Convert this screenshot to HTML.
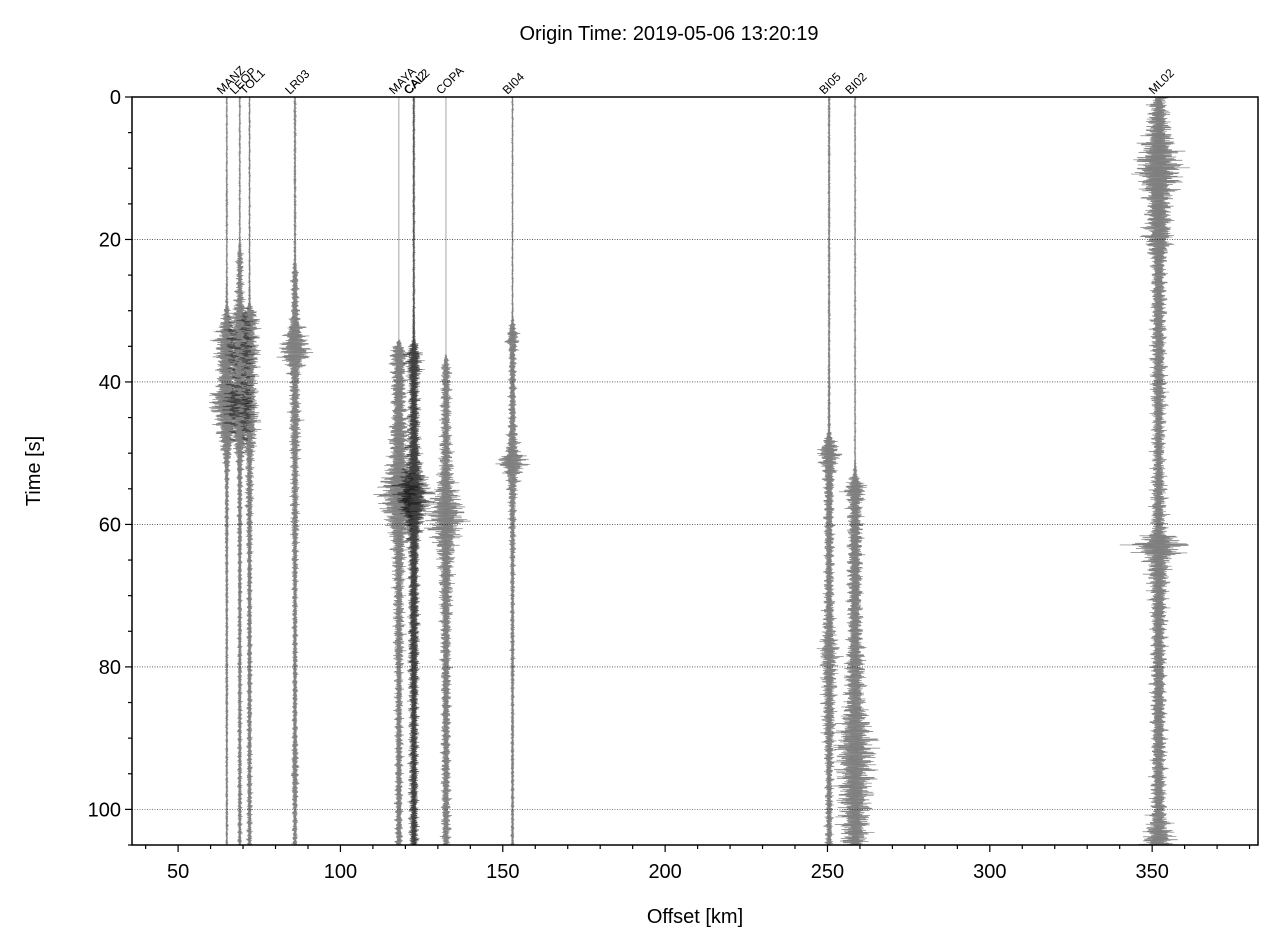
<!DOCTYPE html>
<html><head><meta charset="utf-8"><style>
html,body{margin:0;padding:0;background:#fff;}
svg{display:block;font-family:"Liberation Sans","DejaVu Sans",sans-serif;}
</style></head><body>
<svg id="chart" width="1281" height="952" viewBox="0 0 1281 952" xmlns="http://www.w3.org/2000/svg">
<text x="669" y="40" font-size="20" text-anchor="middle">Origin Time: 2019-05-06 13:20:19</text>
<g id="grid"></g>
<g id="traces"></g>
<g id="labels"></g>
<rect x="132" y="97" width="1126" height="748" fill="none" stroke="#000" stroke-width="1.5"/>
<g id="xaxis"></g>
<g id="yaxis"></g>
<text x="695" y="923" font-size="20" text-anchor="middle">Offset [km]</text>
<text transform="translate(40,471) rotate(-90)" font-size="20" text-anchor="middle">Time [s]</text>
</svg>
<script>
const stations = ["MANZ","LEOP","TOL1","LR03","MAYA","CAI2","CAL2","COPA","BI04","BI05","BI02","ML02"];
const offsets = [65,69,72,86,118,122.5,122.7,132.5,153,250.5,258.5,352];
const knotTimes = [0,5,10,15,20,23,25,29,31,34,36,38,40,43,45,47,50,51,53,55,57,59,61,63,65,70,75,78,80,85,88,91,95,100,105];
// envelope half-width (km) at each knot time, per station
const envMANZ = [0.2,0.2,0.2,0.3,0.2,0.2,0.2,0.5,2,5,5,4,4,8,5,4,2,1.5,1,0.8,0.8,0.8,0.8,0.6,0.6,0.5,0.5,0.5,0.5,0.5,0.4,0.4,0.4,0.4,0.4];
const envLEOP = [0.2,0.2,0.2,0.2,0.2,1.5,1.2,2,4,5,5,4,4,6,5,4,2,1.5,1.2,1,1,1,1,0.9,0.8,0.8,0.8,0.8,0.8,0.8,0.8,0.8,0.8,0.8,0.8];
const envTOL1 = [0.2,0.2,0.2,0.2,0.2,0.2,0.2,0.4,4,3,4,3,3,3,4,3,2,1.5,1.5,1.5,1.5,1.2,1.2,1.2,1,1,1,1,1,1,1,1,1,1,1];
const envLR03 = [0.4,0.4,0.4,0.4,0.4,0.5,1.5,1.5,2,5,7,3,2,2,2.5,2,2,1.5,1.5,1.5,1.5,1.5,1.5,1.2,1.2,1,1,1,1,1,1,1.2,1.5,1,1];
const envMAYA = [0,0,0,0,0,0,0,0,0,0,4,3,3,3,3,4,4,4,6,8,8,6,4,3,2.5,2,2,2,1.5,1.5,1.5,1.5,1.5,1.5,1.5];
const envCAI2 = [0.2,0.2,0.2,0.2,0.2,0.2,0.2,0.2,0.3,0.5,3,3,2,2,2.5,2.5,3,3,5,8,7,4,3,2.5,2,2,2,2,2,1.8,1.8,1.8,1.8,1.8,1.8];
const envCAL2 = [0.2,0.2,0.2,0.2,0.2,0.2,0.2,0.2,0.3,0.5,3,3,2,2,2,2,2.5,2.5,3,5,6,4,3,2,2,2,2,2,2,1.5,1.5,1.5,1.5,1.5,1.5];
const envCOPA = [0,0,0,0,0,0,0,0,0,0,0,2,2,2,2,2,2.5,2.5,3,4,6,8,6,4,3,2.5,2,2,2,1.8,1.8,1.8,1.8,1.8,1.8];
const envBI04 = [0.2,0.2,0.2,0.2,0.2,0.2,0.2,0.2,0.3,3,1.5,1.5,1.5,1.5,1.5,2,3,7,3,2,1.5,1.5,1.2,1.2,1,0.8,0.8,0.8,0.8,0.6,0.6,0.6,0.6,0.6,0.6];
const envBI05 = [0.4,0.4,0.4,0.4,0.4,0.4,0.4,0.4,0.4,0.4,0.4,0.4,0.5,0.5,0.5,0.6,5,4,2.5,2,2,2,2,2,1.8,2,2.5,4,3,2.5,2.5,2,1.5,1.5,1.5];
const envBI02 = [0.2,0.2,0.2,0.2,0.2,0.2,0.2,0.2,0.2,0.2,0.2,0.2,0.2,0.2,0.2,0.2,0.2,0.2,1,5,3,3,3,3,3,3,3,3.5,4,4,6,8,7,6,5];
const envML02 = [3,5,10,5,6,3,3,3,3,3,3,3,3,3,2.5,2.5,2.5,2.5,2.5,3,3,3,3,12,5,3.5,3,3,3,3,3,3,3,3,7];
const envelopes = [envMANZ,envLEOP,envTOL1,envLR03,envMAYA,envCAI2,envCAL2,envCOPA,envBI04,envBI05,envBI02,envML02];
const xTicks = [50,100,150,200,250,300,350];
const yTicks = [0,20,40,60,80,100];

const X0=132,X1=1258,Y0=97,Y1=845, XMIN=35.8,XMAX=382.6,TMIN=0,TMAX=105;
const xs = v => X0+(v-XMIN)/(XMAX-XMIN)*(X1-X0);
const ys = t => Y0+(t-TMIN)/(TMAX-TMIN)*(Y1-Y0);
const NS="http://www.w3.org/2000/svg";
function mk(tag,attrs,parent){const e=document.createElementNS(NS,tag);for(const k in attrs)e.setAttribute(k,attrs[k]);parent.appendChild(e);return e;}
function env(arr,t){for(let i=0;i<knotTimes.length-1;i++){if(t<=knotTimes[i+1]){const f=(t-knotTimes[i])/(knotTimes[i+1]-knotTimes[i]);return arr[i]+(arr[i+1]-arr[i])*f;}}return arr[arr.length-1];}

const grid=document.getElementById('grid');
yTicks.forEach(t=>{ if(t===0) return;
  const l=mk('line',{x1:X0,x2:X1,y1:ys(t),y2:ys(t),stroke:'#000','stroke-width':0.6,'stroke-dasharray':'1,1.5'},grid);
  
  
});

const traces=document.getElementById('traces'), labels=document.getElementById('labels');
stations.forEach((s,i)=>{
  const x0=offsets[i], e=envelopes[i];
  let d='';
  for(let k=0;k<=5250;k++){
    const t=k*0.02;
    const spike=0.45+0.55*Math.abs(Math.sin(t*2.9+i*0.7)*Math.sin(t*5.3+i));
    const osc=(Math.sin(t*53.7+i*1.3)*0.55+Math.sin(t*131.9+i*2.1)*0.3+Math.sin(t*17.3+i)*0.15*Math.sin(t*7.1))*spike*1.3;
    const a=env(e,t)*osc;
    d+=(k?'L':'M')+xs(x0+a).toFixed(2)+' '+ys(t).toFixed(2);
  }
  const p=mk('path',{d:d,fill:'none',stroke:'#000','stroke-opacity':0.5,'stroke-width':0.7},traces);
  
  
  const tx=xs(x0);
  const lb=mk('text',{transform:`translate(${tx-5},95) rotate(-45)`,'font-size':12},labels);
  lb.textContent=s;
  
  
});

const xa=document.getElementById('xaxis');
for(let v=40;v<=380;v+=10){
  const major=v%50===0;
  const l=mk('line',{x1:xs(v),x2:xs(v),y1:Y1,y2:Y1+(major?7:4),stroke:'#000','stroke-width':1.2},xa);
  
  
}
xTicks.forEach(v=>{
  const t=mk('text',{x:xs(v),y:Y1+33,'font-size':20,'text-anchor':'middle'},xa);
  t.textContent=v;
  
  
});
const ya=document.getElementById('yaxis');
for(let v=0;v<=105;v+=5){
  const major=v%20===0;
  const l=mk('line',{x1:X0,x2:X0-(major?7:4),y1:ys(v),y2:ys(v),stroke:'#000','stroke-width':1.2},ya);
  
  
}
yTicks.forEach(v=>{
  const t=mk('text',{x:X0-11,y:ys(v)+7,'font-size':20,'text-anchor':'end'},ya);
  t.textContent=v;
  
  
});
</script>
</body></html>
